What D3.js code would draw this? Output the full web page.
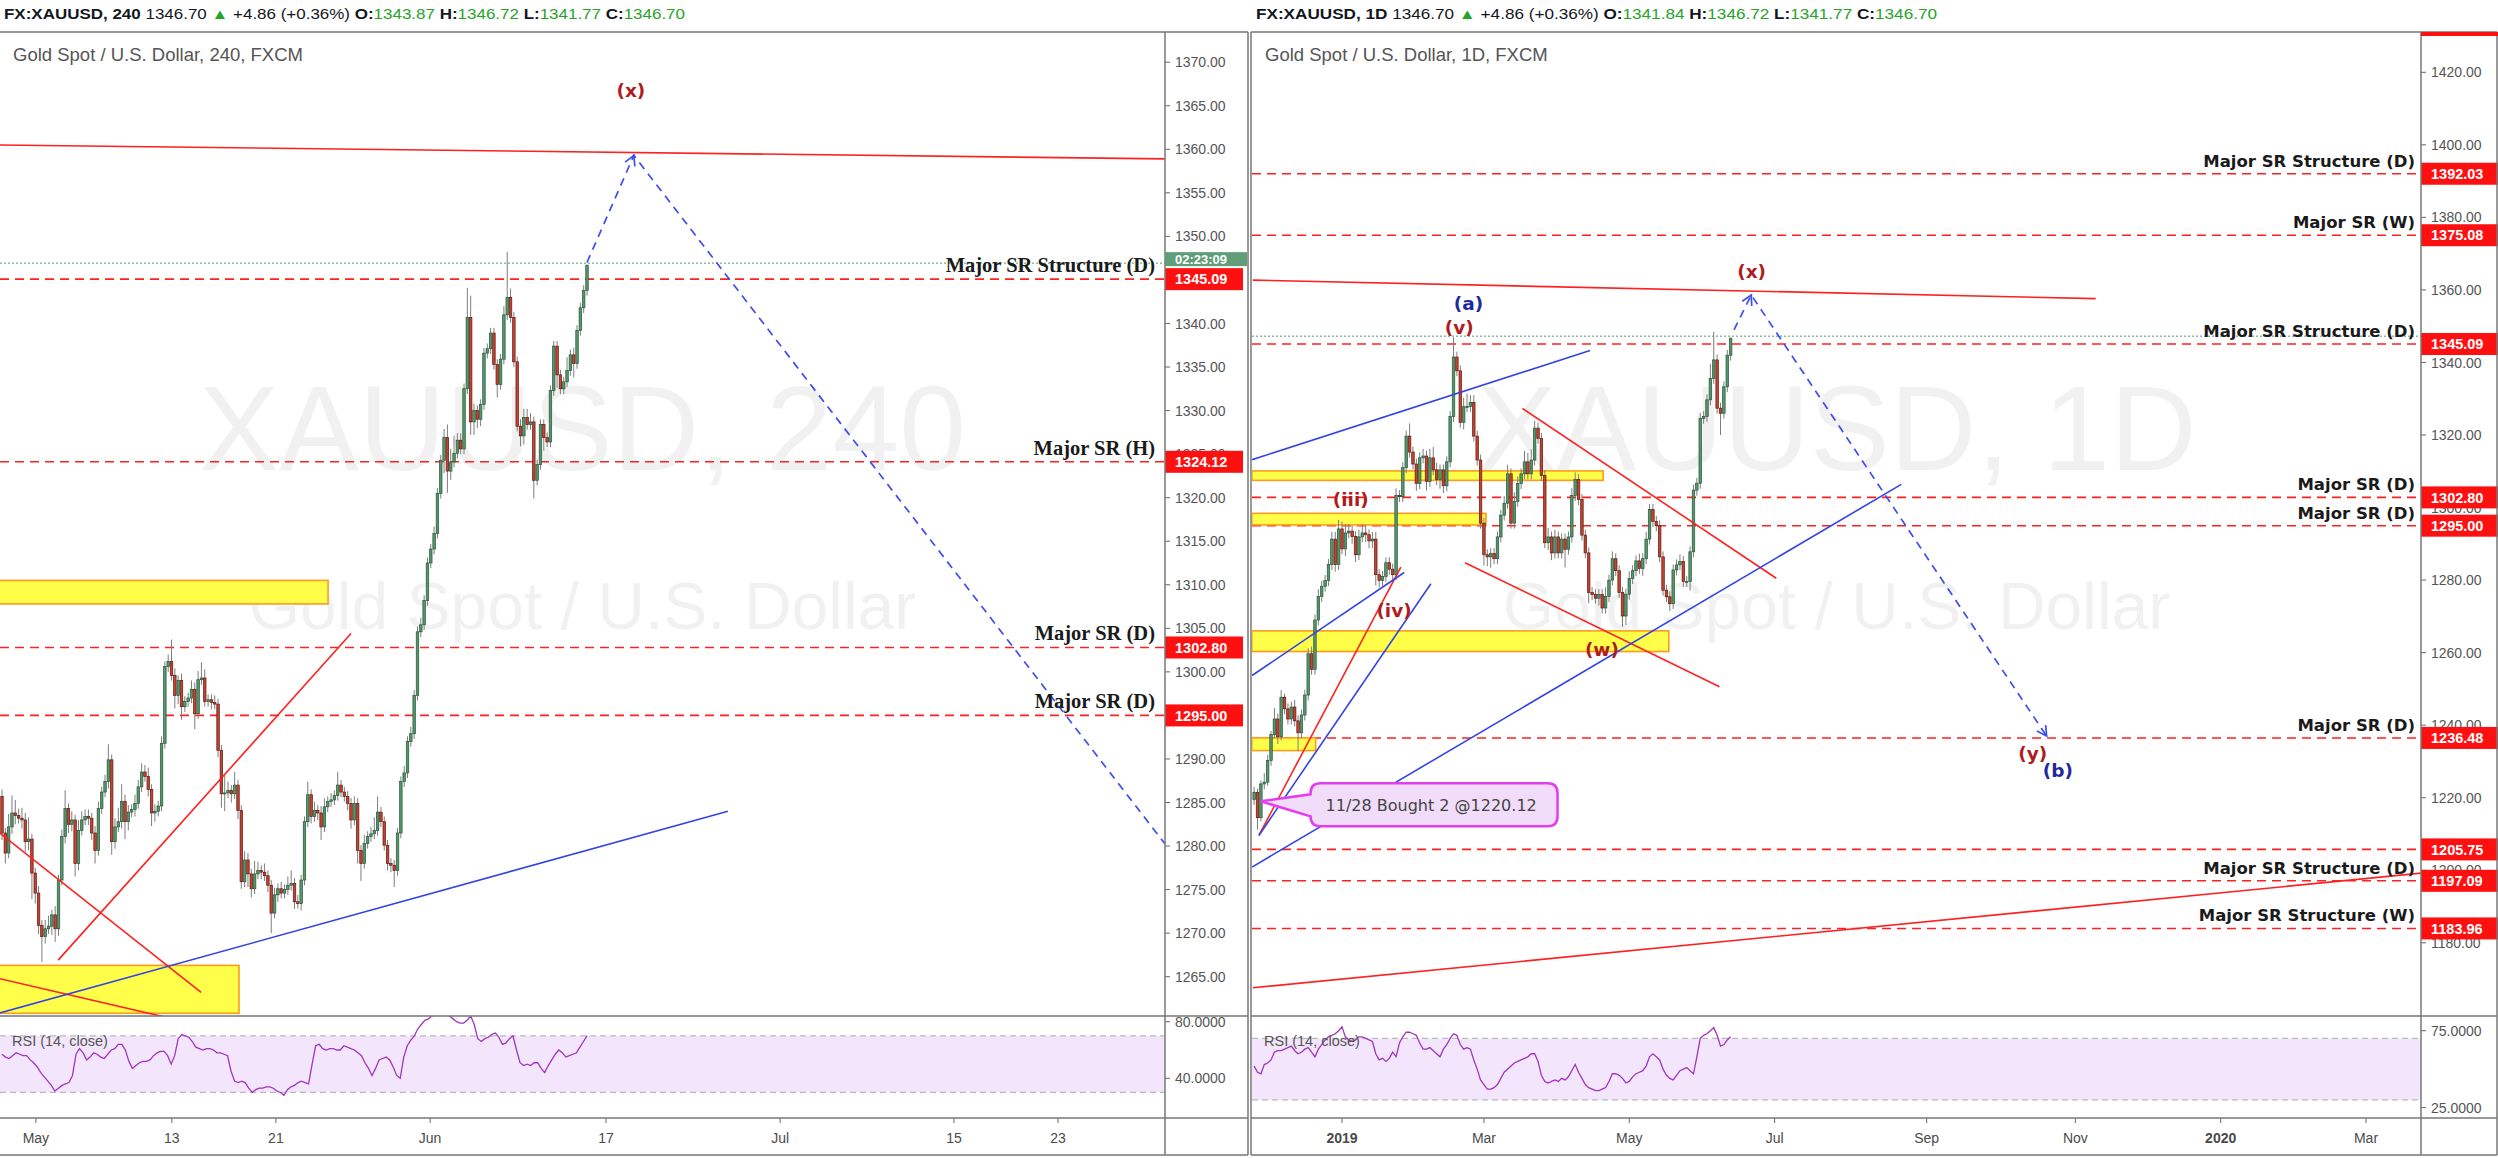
<!DOCTYPE html>
<html><head><meta charset="utf-8">
<script src="https://d3js.org/d3.v7.min.js"></script>
<style>html,body{margin:0;padding:0;background:#fff;overflow:hidden}</style>
</head><body>
<svg id="chart" width="2498" height="1158" xmlns="http://www.w3.org/2000/svg"></svg>
<script>
// ---------------- DATA ----------------
// Left chart: XAUUSD 4H closes (open = previous close)
const firstOpenL = 1285.7;
const closesL = [
1281.5,1279.2,1282.2,1283.8,1283.5,1283.2,1283.0,1280.5,1280.8,1276.9,
1274.6,1270.9,1269.6,1270.5,1270.8,1272.1,1270.5,1276.1,1281.1,1284.3,
1282.5,1283.0,1278.0,1281.8,1283.0,1283.4,1283.2,1281.5,1279.5,1284.3,
1286.2,1287.4,1289.9,1280.5,1282.2,1282.8,1285.1,1282.8,1283.9,1284.2,
1284.9,1286.8,1288.5,1288.0,1286.5,1283.8,1284.0,1284.6,1291.8,1300.6,
1301.2,1299.6,1297.3,1299.0,1296.0,1296.6,1297.0,1298.0,1295.2,1299.1,
1299.3,1296.6,1296.8,1296.5,1296.3,1291.0,1286.0,1286.1,1286.4,1286.0,
1287.0,1284.1,1275.9,1278.4,1276.8,1275.1,1276.8,1277.2,1277.0,1276.6,
1275.5,1272.3,1274.4,1275.1,1274.6,1275.0,1275.5,1275.7,1273.6,1273.4,
1276.1,1282.8,1285.9,1283.4,1284.1,1283.8,1282.2,1284.5,1285.1,1285.3,
1285.8,1287.0,1286.2,1285.7,1284.9,1283.0,1284.9,1279.5,1278.0,1280.3,
1281.1,1281.4,1281.8,1283.9,1282.8,1280.1,1278.0,1277.8,1277.2,1281.5,
1287.4,1288.4,1292.0,1292.9,1297.3,1304.6,1305.4,1308.2,
1312.5,1314.1,1315.9,1320.5,1324.3,1326.9,1323.05,1324.1,1325.1,1326.6,
1325.6,1332.5,1340.7,1328.7,1330.0,1329.0,1330.7,1336.6,1337.1,1338.9,
1335.3,1333.0,1335.9,1341.0,1343.0,1340.7,1335.6,1328.2,1327.1,1329.2,
1328.4,1328.7,1322.0,1323.8,1328.4,1326.9,1326.4,1332.3,1337.4,1334.1,
1332.5,1333.3,1334.6,1336.4,1335.4,1339.2,1341.8,1343.8,1346.7];
const upWickL = [
0.8,0.6,1.5,2.0,1.5,0.8,1.2,0.8,2.5,0.6,
0.6,0.8,0.6,1.0,1.2,0.6,1.0,0.6,0.8,2.1,
0.6,1.0,0.6,1.2,1.0,0.8,0.8,0.6,0.8,0.8,
0.6,0.8,1.8,0.6,1.0,1.6,2.0,0.8,0.8,0.6,
1.0,0.8,1.0,0.8,1.0,0.6,0.8,0.6,0.8,0.6,
0.8,2.5,0.8,0.6,0.8,0.6,0.6,1.0,0.8,1.0,
1.8,1.0,0.6,0.6,0.8,0.6,0.6,2.0,1.0,0.6,
1.5,0.6,0.6,1.0,0.8,0.6,1.5,1.0,0.6,1.0,
0.6,0.6,0.8,0.6,0.8,0.6,1.0,1.5,0.6,0.8,
0.6,0.6,1.5,0.6,1.0,0.6,0.8,1.0,0.6,0.8,
0.6,1.5,0.6,0.6,0.6,0.6,0.8,0.6,0.6,1.0,
0.6,0.8,1.5,1.8,0.6,0.6,0.6,0.6,0.6,0.6,
0.6,0.8,0.6,0.8,0.6,0.6,0.8,0.6,
0.6,0.6,0.8,0.6,0.6,1.0,1.5,1.5,2.0,0.8,
0.8,0.6,3.4,2.5,0.8,0.6,0.6,0.6,0.6,0.6,
0.6,0.6,0.6,1.0,5.2,1.0,0.6,0.6,0.8,1.0,
1.0,1.0,0.6,0.6,0.6,0.6,0.6,0.6,0.6,0.6,
0.6,0.6,1.5,0.6,0.8,0.6,0.6,0.6,0.0];
const dnWickL = [
0.8,1.2,0.6,0.8,1.0,0.6,1.0,1.2,1.0,3.0,
1.2,1.0,2.9,0.8,0.6,1.0,1.5,0.8,0.6,0.8,
1.0,0.8,1.5,0.8,0.6,0.6,0.8,0.8,1.5,0.6,
0.6,0.6,0.8,1.5,0.8,0.6,0.8,2.0,1.0,0.6,
0.8,0.6,0.6,0.6,0.8,1.5,1.0,0.6,0.6,0.6,
0.6,0.6,1.5,1.0,1.5,0.6,0.6,0.6,1.8,0.6,
0.6,0.6,0.6,0.8,0.6,0.8,1.6,2.0,0.6,1.0,
0.6,1.0,0.8,0.6,1.5,1.0,0.6,0.6,0.8,0.6,
0.8,2.3,0.6,0.8,0.6,0.6,0.6,0.6,0.8,0.6,
0.8,0.6,0.6,0.8,0.6,0.8,1.5,0.6,0.6,0.6,
0.6,0.6,0.6,0.6,0.8,1.0,0.6,1.5,2.0,0.6,
0.6,0.6,0.6,0.6,0.6,0.6,0.8,0.8,1.9,0.6,
0.6,0.6,0.6,0.6,0.6,0.6,0.6,0.6,
0.6,0.6,0.6,0.6,0.6,1.5,2.5,1.0,0.6,0.6,
0.6,0.6,0.6,1.5,1.5,1.0,0.8,0.6,0.6,0.6,
0.6,1.5,0.6,0.6,0.6,0.6,0.6,0.6,1.2,1.0,
0.6,0.6,2.1,0.6,0.6,1.5,0.6,0.6,0.6,1.5,
0.6,0.6,0.6,0.6,1.6,0.6,0.6,0.6,0.6];
const rsiL = [57,55,54,56,58,57,56,56,53,51,48,44,41,38,35,31,33,35,36,37,
42,57,61,58,53,55,58,57,55,54,57,60,61,64,64,60,52,47,49,51,
52,52,53,56,58,59,59,56,50,56,68,71,70,69,66,62,61,60,61,61,
60,58,58,57,56,45,38,37,38,37,33,30,32,33,33,34,34,33,31,30,
28,32,34,35,37,38,37,36,50,63,64,61,60,61,61,60,60,63,62,61,
60,58,56,51,47,42,47,53,54,55,53,48,42,40,55,63,67,70,75,78,
81,82,84,85,85,86,85,84,82,80,79,79,81,84,78,68,66,68,69,71,
72,69,64,65,68,70,60,51,49,50,49,51,51,47,44,49,53,57,60,58,
55,56,57,58,62,66,70];
const priceTicksL = d3.range(1265, 1371, 5);
const timeLabelsL = ["May","13","21","Jun","17","Jul","15","23"];
const timeBarsL = [10.2,51.1,82.4,128.8,181.7,234.1,286.4,317.7];
const levelsL = [1345.09,1324.12,1302.80,1295.00];
const levelNamesL = ["Major SR Structure (D)","Major SR (H)","Major SR (D)","Major SR (D)"];
const redLinesL = [[-1,1360.5,350,1358.9],[-1,1281.6,59.9,1263.2],[16.9,1266.9,105,1304.4],[-1,1264.8,52,1260.1]];
const blueLinesL = [[-1,1260.8,218.4,1284.0]];
const zonesL = [[-1,98.1,1310.5,1307.8],[-1,71.3,1266.3,1260.8]];
const projL = [[176,1347.0],[190.1,1359.3],[352,1279.2]];
const waveL = [{t:"(x)",i:189.2,p:1366.8}];

// Right chart: XAUUSD Daily closes (open = previous close), bar index 0 = 2 Jan 2019
const firstOpenD = 1219.5;
const startD = -26;
const closesD = [
1221.5,1214.5,1223.8,1224.3,1230.3,1237.4,1241.7,1236.8,1247.7,1244.5,
1241.7,1245.0,1241.2,1237.9,1242.8,1248.3,1259.7,1255.4,1269.0,1275.5,
1278.3,1279.9,1284.3,1291.3,1284.3,1294.1,1288.6,1293.0,1293.5,1292.0,
1287.0,1291.9,1293.0,1292.5,1290.8,1291.3,1281.5,1279.9,1281.0,1284.8,
1283.0,1281.5,1303.3,1303.0,1311.0,1319.7,
1315.3,1312.0,1306.6,1313.7,1314.2,1307.2,1313.7,1310.4,1307.7,1310.4,
1306.0,1312.6,1325.1,1341.5,1337.7,1323.5,1327.8,1327.9,1329.0,1319.7,
1313.1,1295.7,1287.0,1286.4,1287.3,1285.9,1291.9,1297.9,1301.2,1309.3,
1295.7,1301.7,1306.6,1309.3,1312.6,1309.3,1313.1,1321.9,1319.1,1308.8,
1290.3,1291.9,1287.5,1291.9,1287.5,1291.3,1288.5,1291.9,1303.3,1307.7,
1302.2,1292.4,1287.5,1276.6,1276.0,1275.0,1276.0,1272.3,1275.5,1280.0,
1285.9,1282.6,1276.6,1270.1,1276.1,1280.4,1282.6,1285.3,1283.2,1285.9,
1291.3,1299.5,1296.2,1295.0,1286.4,1277.2,
1275.4,1273.5,1282.8,1284.2,1285.1,1279.6,1279.6,1287.8,1304.8,1306.7,
1324.6,1325.1,1329.7,1335.6,1340.7,1327.4,1326.0,1333.3,1342.0,1346.7];
const upWickD = [
1.5,1.0,1.0,2.5,1.5,1.0,3.0,1.5,2.0,1.0,
1.5,1.5,2.0,1.5,1.5,1.5,1.5,2.0,1.5,2.0,
1.5,1.5,1.5,2.0,2.0,2.5,2.0,2.5,2.0,1.5,
1.5,2.0,2.5,2.0,1.5,2.0,2.0,1.5,1.5,1.5,
1.5,1.5,2.0,1.5,1.5,1.5,
3.5,1.5,1.5,1.5,2.0,1.5,2.5,3.0,2.0,1.5,
1.5,1.5,1.5,5.4,1.5,1.5,2.5,3.5,2.0,2.0,
1.5,1.5,1.5,1.5,1.5,1.5,1.5,1.5,2.0,2.5,
1.5,2.5,2.0,1.5,3.0,2.5,3.0,2.0,1.5,1.5,
1.5,2.5,1.5,2.0,1.5,1.5,1.5,1.5,2.0,2.0,
1.5,1.5,1.5,1.5,1.5,1.5,1.5,1.5,2.5,1.5,
2.0,1.5,1.5,1.5,1.5,2.0,1.5,1.5,2.0,1.5,
2.0,1.5,1.5,1.5,1.5,1.5,
1.5,1.5,1.5,1.5,2.0,1.5,1.5,1.5,1.5,1.5,
1.5,1.5,1.5,4.0,7.8,1.5,1.5,1.5,1.5,0.0];
const dnWickD = [
1.5,3.3,1.0,1.5,1.0,1.5,1.0,2.0,1.0,1.5,
1.5,1.5,1.5,5.0,1.5,1.5,1.5,1.5,1.5,1.5,
1.5,1.5,1.5,1.5,2.0,1.5,1.5,2.0,1.5,2.0,
2.0,1.5,1.5,2.0,2.0,2.0,3.0,2.0,1.5,1.5,
1.5,2.0,1.5,1.5,1.5,1.5,
1.5,1.5,2.0,1.5,1.5,2.5,1.5,1.5,1.5,2.5,
2.0,1.5,1.5,1.5,1.5,1.5,2.0,1.5,1.5,1.5,
1.5,1.5,3.0,2.5,3.0,1.5,1.5,1.5,1.5,1.5,
1.5,1.5,1.5,1.5,1.5,1.5,1.5,1.5,1.5,1.5,
1.5,2.0,2.0,1.5,1.5,1.5,5.0,1.5,1.5,1.5,
1.5,1.5,1.5,3.0,1.5,1.5,2.0,1.5,1.5,1.5,
1.5,1.5,1.5,3.0,2.5,1.5,1.5,1.5,1.5,2.0,
1.5,1.5,1.5,1.5,1.5,1.5,
1.5,2.0,1.5,1.5,1.5,1.5,1.5,2.5,1.5,1.5,
1.5,1.5,1.5,1.5,1.5,1.5,6.0,1.5,1.5,1.5];
const rsiD = [52,48,47,53,54,56,61,62,62,63,64,65,62,60,61,63,64,61,58,63,
66,69,71,72,73,75,77.5,71,69,68,69,71,71,70,69,68,60,56,57,55,
57,61,58,67,71,74,74,73,72,67,63,63,64,62,60,58,63,66,70,73,
72,66,63,64,63,56,50,43,40,37,37,38,40,44,48,50,52,54,55,56,
57,58,60,60,55,46,42,41,42,43,42,44,43,45,49,53,48,44,40,38,
37,36,36,37,38,42,47,47,46,44,41,42,45,47,48,49,52,58,60,58,
56,50,46,44,43,46,49,50,51,49,47,58,70,72,73,75,77,72,65,66,
69,71];
const priceTicksR = d3.range(1180, 1421, 20);
const timeLabelsR = ["2019","Mar","May","Jul","Sep","Nov","2020","Mar"];
const timeBarsR = [0,42,85,128,173,217,260,303];
const yearLabels = ["2019","2020"];
const levelsR = [1392.03,1375.08,1345.09,1302.80,1295.00,1236.48,1205.75,1197.09,1183.96];
const levelNamesR = ["Major SR Structure (D)","Major SR (W)","Major SR Structure (D)","Major SR (D)","Major SR (D)","Major SR (D)","","Major SR Structure (D)","Major SR Structure (W)"];
const redLinesR = [[-26.4,1362.7,223.0,1357.6],[-24.6,1209.6,17.4,1283.6],[53.4,1327.3,128.5,1280.5],[36.4,1284.8,111.7,1250.6],[-26.4,1167.6,319.3,1199.2]];
const blueLinesR = [[-26.6,1313.2,73.4,1343.3],[-26.6,1253.7,18.4,1282.1],[-24.6,1209.6,26.3,1279.0],[-26.6,1200.9,165.5,1306.4]];
const zonesR = [[-26.7,77.3,1310.1,1307.5],[-26.7,42.6,1298.4,1295.2],[-26.7,96.7,1266.0,1260.3],[-26.7,-7.8,1236.5,1233.0]];
const projR = [[116,1349],[121.1,1358.6],[208.5,1237.0]];
const waveRedR = [{t:"(v)",i:34.7,p:1349.5},{t:"(iii)",i:2.6,p:1302.2},{t:"(iv)",i:15.4,p:1271.5},{t:"(w)",i:76.9,p:1260.8},{t:"(x)",i:121.2,p:1365.2},{t:"(y)",i:204.4,p:1232.3}];
const waveBlueR = [{t:"(a)",i:37.4,p:1356.2},{t:"(b)",i:211.8,p:1227.4}];
const noteR = {t:"11/28 Bought 2 @1220.12", i:-24.1, p:1219.0};

const lastPrice = 1346.70;
const headerL = ["FX:XAUUSD, 240","1346.70","+4.86 (+0.36%)","1343.87","1346.72","1341.77","1346.70"];
const headerR = ["FX:XAUUSD, 1D","1346.70","+4.86 (+0.36%)","1341.84","1346.72","1341.77","1346.70"];
const countdown = "02:23:09";

// ---------------- LAYOUT ----------------
const svg = d3.select("#chart");
const TOP = 32, MAIN_B = 1016, RSI_B = 1118, BOT = 1155;
const FONT = "'Liberation Sans', Arial, sans-serif";
const RED = "#ff2020", BLUE = "#3344e6", UPF = "#54966c", UPS = "#28573a", DNF = "#c5422e", DNS = "#5e1a12";

const L = {plotL:0, axisX:1165, paneL:0, paneR:1248};
const R = {plotL:1252, axisX:2421, paneL:1251, paneR:2497};

const xL = d3.scaleLinear().domain([0, 176]).range([2, 587]);
const yL = d3.scaleLinear().domain([1265, 1370]).range([976.7, 62.2]);
const rL = d3.scaleLinear().domain([40, 80]).range([1078.3, 1021.7]);
const xR = d3.scaleLinear().domain([0, 303]).range([1342, 2366]);
const yR = d3.scaleLinear().domain([1180, 1420]).range([942.8, 72.3]);
const rR = d3.scaleLinear().domain([25, 75]).range([1107.6, 1030.7]);

const defs = svg.append("defs");
function clipRect(id, x, y, w, h) {
  defs.append("clipPath").attr("id", id).append("rect").attr("x", x).attr("y", y).attr("width", w).attr("height", h);
  return `url(#${id})`;
}

function header(vals, x0) {
  const t = svg.append("text").attr("x", x0).attr("y", 19).attr("font-family", FONT).attr("font-size", 14.5).attr("fill", "#131722");
  const G = "#27a327";
  const parts = [[vals[0]+" ", "#131722", "bold"], [vals[1]+" ", "#131722", "normal"], ["\u25B2", G, "normal"], [" "+vals[2]+" ", "#131722", "normal"],
    ["O:", "#131722", "bold"], [vals[3], G, "normal"], [" H:", "#131722", "bold"], [vals[4], G, "normal"],
    [" L:", "#131722", "bold"], [vals[5], G, "normal"], [" C:", "#131722", "bold"], [vals[6], G, "normal"]];
  parts.forEach(p => t.append("tspan").text(p[0]).attr("fill", p[1]).attr("font-weight", p[2]));
  t.attr("textLength", 681).attr("lengthAdjust", "spacingAndGlyphs");
}

function pane(P, x, y, r, cfg) {
  const mainClip = clipRect(cfg.id + "m", P.plotL, TOP, P.axisX - P.plotL, MAIN_B - TOP);
  const rsiClip = clipRect(cfg.id + "r", P.plotL, MAIN_B, P.axisX - P.plotL, RSI_B - MAIN_B);
  const rsiAxisClip = clipRect(cfg.id + "ra", P.axisX, MAIN_B + 1, P.paneR - P.axisX, RSI_B - MAIN_B - 1);
  const cx = (P.plotL + P.axisX) / 2;

  // watermark
  const wm = svg.append("g").attr("clip-path", mainClip).attr("font-family", FONT).attr("fill", "#000").attr("fill-opacity", 0.055).attr("text-anchor", "middle");
  wm.append("text").attr("x", cx).attr("y", 470).attr("font-size", 120).text(cfg.wm1);
  wm.append("text").attr("x", cx).attr("y", 629).attr("font-size", 66).text("Gold Spot / U.S. Dollar");

  // chart title
  svg.append("text").attr("x", P.plotL + 13).attr("y", 61).attr("font-family", FONT).attr("font-size", 18.5).attr("fill", "#555").text(cfg.title);

  const g = svg.append("g").attr("clip-path", mainClip);
  // red dashed SR levels
  g.selectAll(null).data(cfg.levels).join("line")
    .attr("x1", P.plotL).attr("x2", P.axisX).attr("y1", d => y(d)).attr("y2", d => y(d))
    .attr("stroke", RED).attr("stroke-width", 1.6).attr("stroke-dasharray", "9,6");
  // current price dotted line
  g.append("line").attr("x1", P.plotL).attr("x2", P.axisX).attr("y1", y(lastPrice) - 2).attr("y2", y(lastPrice) - 2)
    .attr("stroke", "#4f9a6a").attr("stroke-width", 1).attr("stroke-dasharray", "2,2");
  // yellow zones
  g.selectAll(null).data(cfg.zones).join("rect")
    .attr("x", d => x(d[0])).attr("width", d => x(d[1]) - x(d[0]))
    .attr("y", d => y(d[2])).attr("height", d => y(d[3]) - y(d[2]))
    .attr("fill", "#ffff4a").attr("stroke", "#ff9a1a").attr("stroke-width", 1.6);

  // candles
  const bars = cfg.closes.map((c, k) => {
    const o = k ? cfg.closes[k - 1] : cfg.firstOpen;
    return {i: cfg.start + k, o, c, h: Math.max(o, c) + cfg.up[k], l: Math.min(o, c) - cfg.dn[k]};
  });
  g.append("g").selectAll("line").data(bars).join("line")
    .attr("x1", d => x(d.i)).attr("x2", d => x(d.i)).attr("y1", d => y(d.h)).attr("y2", d => y(d.l))
    .attr("stroke", "#7d7d7d").attr("stroke-width", 1);
  g.append("g").selectAll("rect").data(bars).join("rect")
    .attr("x", d => x(d.i) - cfg.bw / 2).attr("width", cfg.bw)
    .attr("y", d => y(Math.max(d.o, d.c))).attr("height", d => Math.max(1, y(Math.min(d.o, d.c)) - y(Math.max(d.o, d.c))))
    .attr("fill", d => d.c >= d.o ? UPF : DNF).attr("stroke", d => d.c >= d.o ? UPS : DNS).attr("stroke-width", 0.7);

  // trend lines
  g.selectAll(null).data(cfg.redLines).join("line")
    .attr("x1", d => x(d[0])).attr("y1", d => y(d[1])).attr("x2", d => x(d[2])).attr("y2", d => y(d[3]))
    .attr("stroke", RED).attr("stroke-width", 1.6);
  g.selectAll(null).data(cfg.blueLines).join("line")
    .attr("x1", d => x(d[0])).attr("y1", d => y(d[1])).attr("x2", d => x(d[2])).attr("y2", d => y(d[3]))
    .attr("stroke", BLUE).attr("stroke-width", 1.6);
  // projection
  const pts = cfg.proj.map(d => [x(d[0]), y(d[1])]);
  g.append("path").attr("d", d3.line()(pts)).attr("fill", "none").attr("stroke", "#3d4df0").attr("stroke-width", 1.7).attr("stroke-dasharray", "8,6");
  function head(a, b) {
    const ang = Math.atan2(b[1] - a[1], b[0] - a[0]), Lh = 11, s = 0.5;
    g.append("path").attr("d", `M${b[0] - Lh * Math.cos(ang - s)},${b[1] - Lh * Math.sin(ang - s)}L${b[0]},${b[1]}L${b[0] - Lh * Math.cos(ang + s)},${b[1] - Lh * Math.sin(ang + s)}`)
      .attr("fill", "none").attr("stroke", "#3d4df0").attr("stroke-width", 1.7);
  }
  head(pts[0], pts[1]);
  if (cfg.endArrow) head(pts[1], pts[2]);

  // level names
  g.selectAll(null).data(cfg.levels.map((v, k) => ({v, t: cfg.levelNames[k]})).filter(d => d.t)).join("text")
    .attr("x", P.axisX - cfg.nameInset).attr("y", d => y(d.v) - 7).attr("text-anchor", "end")
    .attr("font-family", cfg.nameFont).attr("font-weight", "bold").attr("font-size", cfg.nameSize).attr("fill", "#1a1a1a").text(d => d.t);

  // wave labels
  const wl = (arr, col) => g.selectAll(null).data(arr).join("text")
    .attr("x", d => x(d.i)).attr("y", d => y(d.p)).attr("dy", "0.35em").attr("text-anchor", "middle")
    .attr("font-family", "'DejaVu Sans', Verdana, sans-serif").attr("font-weight", "bold").attr("font-size", 18.5).attr("fill", col).text(d => d.t);
  wl(cfg.waveRed, "#b01c1c");
  wl(cfg.waveBlue, "#1c2a9c");

  // ---- price axis ----
  const ax = svg.append("g").attr("font-family", FONT).attr("font-size", 14).attr("fill", "#555");
  const tk = cfg.priceTicks;
  ax.selectAll(null).data(tk).join("line").attr("x1", P.axisX).attr("x2", P.axisX + 5).attr("y1", d => y(d)).attr("y2", d => y(d)).attr("stroke", "#666");
  ax.selectAll(null).data(tk).join("text").attr("x", P.axisX + 10).attr("y", d => y(d)).attr("dy", "0.36em").text(d => d.toFixed(2));
  // red price labels
  const lb = svg.append("g");
  lb.selectAll(null).data(cfg.levels).join("rect").attr("x", P.axisX).attr("width", cfg.boxW).attr("y", d => y(d) - 11).attr("height", 22).attr("fill", "#ff1010");
  lb.selectAll(null).data(cfg.levels).join("text").attr("x", P.axisX + 10).attr("y", d => y(d)).attr("dy", "0.36em")
    .attr("font-family", FONT).attr("font-weight", "bold").attr("font-size", 14.5).attr("fill", "#fff").text(d => d.toFixed(2));

  // ---- RSI ----
  const rg = svg.append("g").attr("clip-path", rsiClip);
  rg.append("rect").attr("x", P.plotL).attr("width", P.axisX - P.plotL).attr("y", r(70)).attr("height", r(30) - r(70)).attr("fill", "#f3e6fc");
  rg.selectAll(null).data([70, 30]).join("line").attr("x1", P.plotL).attr("x2", P.axisX).attr("y1", d => r(d)).attr("y2", d => r(d))
    .attr("stroke", "#b9b9b9").attr("stroke-width", 1.2).attr("stroke-dasharray", "6,4");
  rg.append("path").attr("d", d3.line().x((v, k) => cfg.rsiX(k)).y(v => r(v))(cfg.rsi)).attr("fill", "none").attr("stroke", "#a035c0").attr("stroke-width", 1.3);
  rg.append("text").attr("x", P.plotL + 12).attr("y", 1046).attr("font-family", FONT).attr("font-size", 14.5).attr("fill", "#555").text("RSI (14, close)");
  const ra = svg.append("g").attr("clip-path", rsiAxisClip).attr("font-family", FONT).attr("font-size", 14).attr("fill", "#555");
  ra.selectAll(null).data(cfg.rsiTicks).join("line").attr("x1", P.axisX).attr("x2", P.axisX + 5).attr("y1", d => r(d)).attr("y2", d => r(d)).attr("stroke", "#666");
  ra.selectAll(null).data(cfg.rsiTicks).join("text").attr("x", P.axisX + 10).attr("y", d => r(d)).attr("dy", "0.36em").text(d => d.toFixed(4));

  // ---- time axis ----
  const tg = svg.append("g").attr("font-family", FONT).attr("font-size", 14).attr("fill", "#4a4a4a").attr("text-anchor", "middle");
  tg.selectAll(null).data(cfg.timeBars).join("line").attr("x1", d => x(d)).attr("x2", d => x(d)).attr("y1", RSI_B).attr("y2", RSI_B + 5).attr("stroke", "#666");
  tg.selectAll(null).data(cfg.timeBars).join("text").attr("x", d => x(d)).attr("y", 1143)
    .attr("font-weight", (d, k) => yearLabels.includes(cfg.timeLabels[k]) ? "bold" : "normal").text((d, k) => cfg.timeLabels[k]);

  // ---- frame ----
  const fr = svg.append("g").attr("stroke", "#777").attr("stroke-width", 1.5);
  fr.append("line").attr("x1", P.paneL).attr("x2", P.paneR).attr("y1", TOP).attr("y2", TOP);
  fr.append("line").attr("x1", P.paneL).attr("x2", P.paneR).attr("y1", BOT).attr("y2", BOT);
  fr.append("line").attr("x1", P.paneL).attr("x2", P.paneR).attr("y1", MAIN_B).attr("y2", MAIN_B);
  fr.append("line").attr("x1", P.paneL).attr("x2", P.paneR).attr("y1", RSI_B).attr("y2", RSI_B);
  fr.append("line").attr("x1", P.axisX).attr("x2", P.axisX).attr("y1", TOP).attr("y2", BOT);
  fr.append("line").attr("x1", P.paneR).attr("x2", P.paneR).attr("y1", TOP).attr("y2", BOT);
  if (P.paneL > 0) fr.append("line").attr("x1", P.paneL).attr("x2", P.paneL).attr("y1", TOP).attr("y2", BOT);
}

header(headerL, 4);
header(headerR, 1256);

pane(L, xL, yL, rL, {
  id: "L", wm1: "XAUUSD, 240", title: "Gold Spot / U.S. Dollar, 240, FXCM",
  levels: levelsL, levelNames: levelNamesL, zones: zonesL, closes: closesL, firstOpen: firstOpenL, start: 0,
  up: upWickL, dn: dnWickL, bw: 2.5, redLines: redLinesL, blueLines: blueLinesL, proj: projL, endArrow: false,
  nameInset: 10, nameFont: "'Liberation Serif', 'Times New Roman', serif", nameSize: 20.5,
  waveRed: waveL, waveBlue: [], priceTicks: priceTicksL, boxW: 78,
  rsi: rsiL, rsiX: d3.scaleLinear().domain([0, rsiL.length - 1]).range([xL(0), xL(closesL.length - 1)]), rsiTicks: [80, 40],
  timeBars: timeBarsL, timeLabels: timeLabelsL
});

pane(R, xR, yR, rR, {
  id: "R", wm1: "XAUUSD, 1D", title: "Gold Spot / U.S. Dollar, 1D, FXCM",
  levels: levelsR, levelNames: levelNamesR, zones: zonesR, closes: closesD, firstOpen: firstOpenD, start: startD,
  up: upWickD, dn: dnWickD, bw: 2.5, redLines: redLinesR, blueLines: blueLinesR, proj: projR, endArrow: true,
  nameInset: 6, nameFont: "'DejaVu Sans', Verdana, sans-serif", nameSize: 16.5,
  waveRed: waveRedR, waveBlue: waveBlueR, priceTicks: priceTicksR, boxW: 77,
  rsi: rsiD, rsiX: k => xR(startD + k), rsiTicks: [75, 25],
  timeBars: timeBarsR, timeLabels: timeLabelsR
});

// countdown label (left)
svg.append("rect").attr("x", L.axisX).attr("width", 82).attr("y", yL(lastPrice) - 13).attr("height", 14).attr("fill", "#5f9e78");
svg.append("text").attr("x", L.axisX + 10).attr("y", yL(lastPrice) - 6).attr("dy", "0.36em").attr("font-family", FONT).attr("font-size", 13).attr("font-weight", "bold").attr("fill", "#fff").text(countdown);
// top-right red edge (off-scale label)
svg.append("rect").attr("x", R.axisX).attr("width", R.paneR - R.axisX + 1).attr("y", TOP).attr("height", 4).attr("fill", "#ff1010");

// callout on right chart
(function () {
  const ax = xR(noteR.i), ay = yR(noteR.p);
  const Lx = ax + 50, Rx = ax + 297, T = ay - 18, B = ay + 25, rr = 10, y1 = ay - 7, y2 = ay + 15;
  const d = `M${Lx + rr},${T}H${Rx - rr}Q${Rx},${T} ${Rx},${T + rr}V${B - rr}Q${Rx},${B} ${Rx - rr},${B}H${Lx + rr}Q${Lx},${B} ${Lx},${B - rr}V${y2}L${ax},${ay}L${Lx},${y1}V${T + rr}Q${Lx},${T} ${Lx + rr},${T}Z`;
  svg.append("path").attr("d", d).attr("fill", "#f1dcfa").attr("stroke", "#e43df0").attr("stroke-width", 2.5);
  svg.append("text").attr("x", Lx + 15).attr("y", (T + B) / 2).attr("dy", "0.36em").attr("font-family", "'DejaVu Sans', Verdana, sans-serif")
    .attr("font-size", 16).attr("fill", "#444").text(noteR.t);
})();
</script>
</body></html>
